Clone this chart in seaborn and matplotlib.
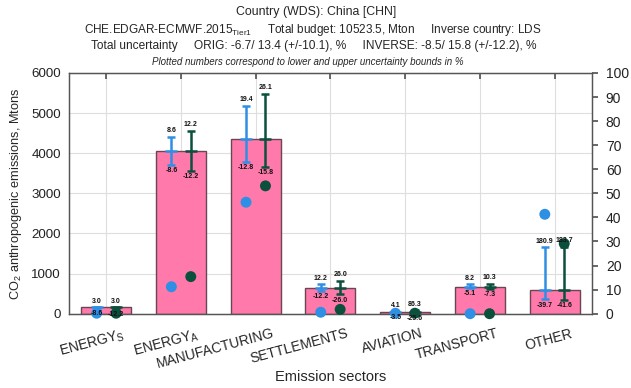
import numpy as np
import pandas as pd
import matplotlib
matplotlib.use("Agg")
import matplotlib.pyplot as plt
from matplotlib.transforms import ScaledTranslation, offset_copy
import seaborn as sns

# Emission sectors and their CO2 budgets (Mton)
sectors = [r"ENERGY$_\mathrm{S}$", r"ENERGY$_\mathrm{A}$", "MANUFACTURING",
           "SETTLEMENTS", "AVIATION", "TRANSPORT", "OTHER"]
emissions = [160, 4060, 4345, 650, 45, 675, 590]

# Lower / upper uncertainty bounds in % (original and inverse estimates)
orig_lo = [-8.6, -8.6, -12.8, -12.2, -3.5, -5.1, -39.7]
orig_hi = [3.0, 8.6, 19.4, 12.2, 4.1, 8.2, 180.9]
inv_lo = [-12.2, -12.2, -15.8, -26.0, -25.6, -7.3, -41.6]
inv_hi = [3.0, 12.2, 26.1, 26.0, 86.3, 10.3, 183.7]

# Values plotted against the right-hand axis (0-100)
orig_share = [0.2, 11.2, 46.3, 0.6, 0.2, 0.0, 41.3]
inv_share = [0.2, 15.4, 53.1, 1.8, 0.2, 0.0, 29.1]

PINK = "#ff79aa"
BAR_EDGE = "#6a4654"
BLUE = "#2f8fe4"
GREEN = "#0b4f3d"

sns.set_theme(style="white")
plt.rcParams["font.family"] = ["Liberation Sans", "DejaVu Sans"]
plt.rcParams["mathtext.fontset"] = "custom"
plt.rcParams["mathtext.rm"] = "Liberation Sans"
plt.rcParams["mathtext.it"] = "Liberation Sans:italic"
plt.rcParams["mathtext.bf"] = "Liberation Sans:bold"

fig = plt.figure(figsize=(6.31, 3.88), dpi=100)
ax = fig.add_axes([0.1094, 0.1915, 0.8286, 0.6205])

df = pd.DataFrame({"sector": sectors, "emissions": emissions})
sns.barplot(data=df, x="sector", y="emissions", color=PINK, saturation=1,
            width=0.67, edgecolor=BAR_EDGE, linewidth=1.0, ax=ax, zorder=2)

ax.set_xlim(-0.5, len(sectors) - 0.5)
ax.set_ylim(0, 6000)
ax.set_yticks(np.arange(0, 6001, 1000))
ax.grid(True, color="#dedede", linewidth=0.8, zorder=0)
ax.xaxis.grid(True)
ax.set_axisbelow(True)
for s in ax.spines.values():
    s.set_color("#555555")
    s.set_linewidth(0.9)

ax.set_ylabel(r"CO$_2$ anthropogenic emissions, Mtons", fontsize=9.2, labelpad=5)
ax.set_xlabel("Emission sectors", fontsize=10.5)
ax.xaxis.set_label_coords(0.5, -0.235)
ax.tick_params(axis="y", labelsize=9.6, direction="in", length=0, pad=6, colors="#222222")
ax.tick_params(axis="x", labelsize=10, direction="in", length=4, top=True,
               color="#555555", pad=2)

# Rotated sector labels, shifted right of their tick
ax.set_xticks(np.arange(len(sectors)))
ax.set_xticklabels(sectors, rotation=15, ha="right", va="top",
                   rotation_mode="anchor")
shift = ScaledTranslation(0.16, -0.10, fig.dpi_scale_trans)
for lab in ax.get_xticklabels():
    lab.set_transform(lab.get_transform() + shift)

# Right-hand axis for the share markers
ax2 = ax.twinx()
ax2.set_ylim(0, 100)
ax2.set_yticks(np.arange(0, 101, 10))
ax2.tick_params(axis="y", labelsize=10, direction="out", length=4, pad=6,
                color="#555555", colors="#222222")
for s in ax2.spines.values():
    s.set_color("#555555")
    s.set_linewidth(0.9)
ax2.grid(False)

x = np.arange(len(sectors))
dx = 0.13
vals = np.array(emissions, dtype=float)

series = [
    (x - dx, orig_lo, orig_hi, orig_share, BLUE),
    (x + dx, inv_lo, inv_hi, inv_share, GREEN),
]

up_off = offset_copy(ax.transData, fig=fig, y=2.5, units="dots")
dn_off = offset_copy(ax.transData, fig=fig, y=-2.5, units="dots")

for xs, lo, hi, share, col in series:
    lo = np.array(lo)
    hi = np.array(hi)
    lower = vals * (1 + lo / 100)
    upper = vals * (1 + hi / 100)
    ax.errorbar(xs, vals, yerr=[vals - lower, upper - vals], fmt="_",
                color=col, ecolor=col, elinewidth=1.8, capsize=3.2,
                capthick=1.8, markersize=9, markeredgewidth=1.8, zorder=3)
    ax2.scatter(xs, share, s=62, color=col, edgecolor="none", zorder=4,
                clip_on=False)
    for xi, u, l, h, lw in zip(xs, upper, lower, hi, lo):
        ax2.text(xi, u, f"{h:.1f}", transform=up_off, ha="center", va="bottom",
                 fontsize=5, fontweight="bold", color="#111111", zorder=6)
        ax2.text(xi, l, f"{lw:.1f}", transform=dn_off, ha="center", va="top",
                 fontsize=5, fontweight="bold", color="#111111", zorder=6)

# Header lines
fig.text(0.501, 1 - 12 / 388, "Country (WDS): China [CHN]", ha="center",
         va="center", fontsize=8.9)
fig.text(0.495, 1 - 30 / 388,
         r"CHE.EDGAR-ECMWF.2015$_{\mathrm{Tier1}}$     Total budget: 10523.5, Mton     Inverse country: LDS",
         ha="center", va="center", fontsize=8.5)
fig.text(0.497, 1 - 46 / 388,
         "Total uncertainty     ORIG: -6.7/ 13.4 (+/-10.1), %     INVERSE: -8.5/ 15.8 (+/-12.2), %",
         ha="center", va="center", fontsize=8.6)
fig.text(0.488, 1 - 62 / 388,
         "Plotted numbers correspond to lower and upper uncertainty bounds in %",
         ha="center", va="center", fontsize=7.0, style="italic")

fig.savefig("out.png", dpi=100)
